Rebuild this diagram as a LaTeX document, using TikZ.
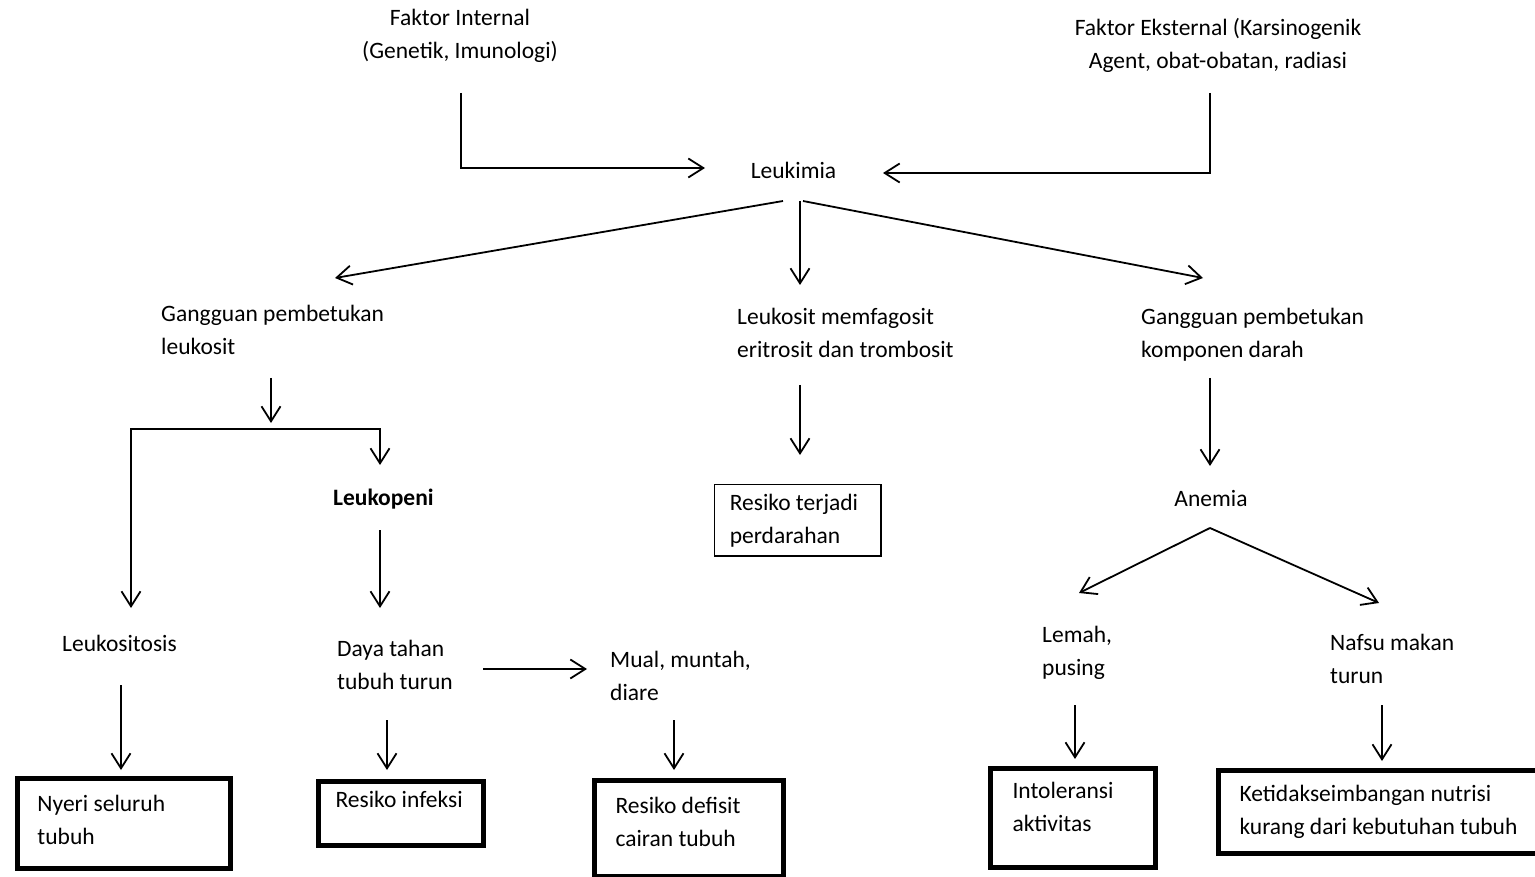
\documentclass[tikz,border=0pt]{standalone}
\usepackage{fontspec}
\setmainfont{Carlito}
\usetikzlibrary{arrows.meta}
\begin{document}
\begin{tikzpicture}[x=1pt,y=-1pt,
  txt/.style={inner sep=0pt, font=\fontsize{23.5}{33}\selectfont},
  ltxt/.style={txt, align=flush left, anchor=base west},
  ctxt/.style={txt, align=flush center, anchor=base},
  arr/.style={line width=1.8pt, line cap=butt,
    -{Straight Barb[length=15pt,width=19pt,line width=1.8pt]}},
  darr/.style={line width=1.8pt,
    {Straight Barb[length=15pt,width=19pt,line width=1.8pt]}-{Straight Barb[length=15pt,width=19pt,line width=1.8pt]}},
  tbox/.style={draw, line width=5pt, anchor=north west, align=flush left, inner ysep=0pt,
    font=\fontsize{23.5}{33}\selectfont},
  thinbox/.style={draw, line width=1.5pt, anchor=north west, align=flush left, inner ysep=0pt,
    font=\fontsize{23.5}{33}\selectfont}]
\useasboundingbox (0,0) rectangle (1535,877);

% ---- text nodes (y = baseline of last line) ----
\node[ctxt] (intern) at (460,59) {Faktor Internal\\(Genetik, Imunologi)};
\node[ctxt] (extern) at (1218,69) {Faktor Eksternal (Karsinogenik\\Agent, obat-obatan, radiasi};
\node[ctxt] (leuk) at (793.5,179) {Leukimia};
\node[ltxt] (gpl) at (161,355) {Gangguan pembetukan\\leukosit};
\node[ltxt] (fago) at (737,358) {Leukosit memfagosit\\eritrosit dan trombosit};
\node[ltxt] (gpk) at (1141,358) {Gangguan pembetukan\\komponen darah};
\node[ltxt, font=\fontsize{23.5}{33}\selectfont\bfseries] (penia) at (333,505) {Leukopeni};
\node[ctxt] (anem) at (1211,506) {Anemia};
\node[ltxt] (sitosis) at (62,651) {Leukositosis};
\node[ltxt] (daya) at (337,689) {Daya tahan\\tubuh turun};
\node[ltxt] (mual) at (610,700) {Mual, muntah,\\diare};
\node[ltxt] (lemah) at (1042,675) {Lemah,\\pusing};
\node[ltxt] (nafsu) at (1330,683) {Nafsu makan\\turun};

% ---- boxes ----
\node[thinbox, minimum width=166.5pt, minimum height=71.5pt, text width=136pt, inner xsep=15.25pt]
  (perd) at (713.75,483.75) {Resiko terjadi\\perdarahan};
\node[tbox, minimum width=213pt, minimum height=90pt, text width=172pt, inner xsep=20.5pt, text depth=40pt]
  (nyeri) at (14.5,775.5) {Nyeri seluruh\\tubuh};
\node[tbox, minimum width=165pt, minimum height=64pt, text width=130pt, inner xsep=17.5pt, text depth=28pt]
  (infeksi) at (315.5,778.5) {Resiko infeksi};
\node[tbox, minimum width=189pt, minimum height=96pt, text width=146pt, inner xsep=21.5pt, text depth=46pt]
  (defisit) at (591.5,777.5) {Resiko defisit\\cairan tubuh};
\node[tbox, minimum width=165pt, minimum height=99pt, text width=120pt, inner xsep=22.5pt, text depth=54pt]
  (intol) at (987.5,765.5) {Intoleransi\\aktivitas};
\node[tbox, minimum width=330pt, minimum height=83pt, text width=287pt, inner xsep=21.5pt]
  (nutri) at (1215.5,767.5) {Ketidakseimbangan nutrisi\\kurang dari kebutuhan tubuh};

% ---- connector end points ----
\coordinate (inS) at (461,93);   \coordinate (inE) at (705,168);
\coordinate (exS) at (1210,93);  \coordinate (exE) at (883,173);
\coordinate (lkL) at (783,201);  \coordinate (lkC) at (800,201);  \coordinate (lkR) at (803,201);
\coordinate (gplT) at (335,278); \coordinate (fagoT) at (800,285); \coordinate (gpkT) at (1203,278);
\coordinate (gplS) at (271,378); \coordinate (gplE) at (271,423);
\coordinate (brL) at (131,429);  \coordinate (brR) at (380,429);
\coordinate (sitT) at (131,608); \coordinate (penT) at (380,465);
\coordinate (penS) at (380,530); \coordinate (penE) at (380,608);
\coordinate (fagS) at (800,385); \coordinate (fagE) at (800,455);
\coordinate (gpkS) at (1210,378); \coordinate (gpkE) at (1210,466);
\coordinate (anS) at (1210,528); \coordinate (anL) at (1079,593); \coordinate (anR) at (1379,603);
\coordinate (sitS) at (121,685); \coordinate (sitE) at (121,770);
\coordinate (dayS) at (387,720); \coordinate (dayE) at (387,770);
\coordinate (dmS) at (483,669);  \coordinate (dmE) at (587,669);
\coordinate (muS) at (674,720);  \coordinate (muE) at (674,770);
\coordinate (lmS) at (1075,705); \coordinate (lmE) at (1075,759);
\coordinate (nfS) at (1382,705); \coordinate (nfE) at (1382,761);

% ---- connectors ----
\draw[arr] (inS) |- (inE);
\draw[arr] (exS) |- (exE);
\draw[arr] (lkL) -- (gplT);
\draw[arr] (lkC) -- (fagoT);
\draw[arr] (lkR) -- (gpkT);
\draw[arr] (gplS) -- (gplE);
\draw[darr] (sitT) -- (brL) -- (brR) -- (penT);
\draw[arr] (penS) -- (penE);
\draw[arr] (fagS) -- (fagE);
\draw[arr] (gpkS) -- (gpkE);
\draw[arr] (anS) -- (anL);
\draw[arr] (anS) -- (anR);
\draw[arr] (sitS) -- (sitE);
\draw[arr] (dayS) -- (dayE);
\draw[arr] (dmS) -- (dmE);
\draw[arr] (muS) -- (muE);
\draw[arr] (lmS) -- (lmE);
\draw[arr] (nfS) -- (nfE);
\end{tikzpicture}
\end{document}
